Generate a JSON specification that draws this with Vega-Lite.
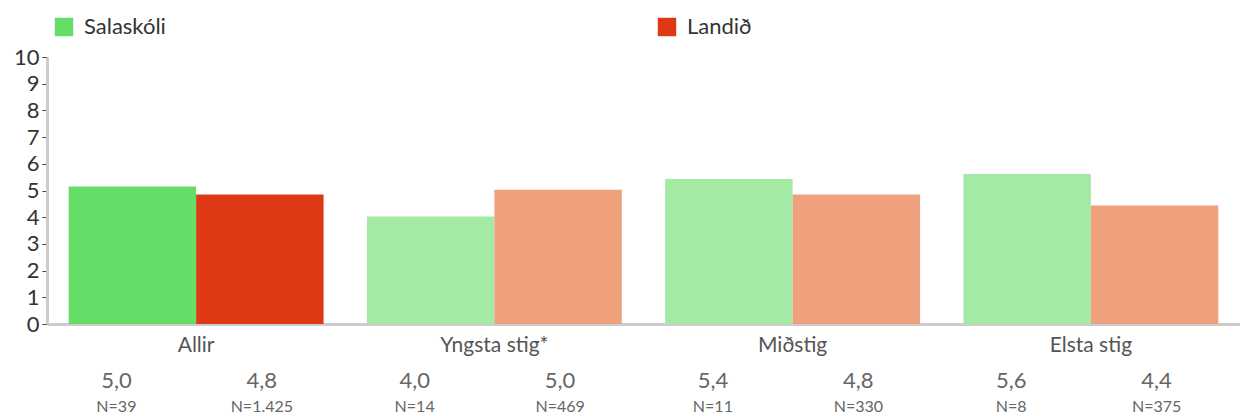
{
  "$schema": "https://vega.github.io/schema/vega-lite/v6.json",
  "width": 1193,
  "height": 267,
  "autosize": {"type": "none"},
  "padding": {"left": 47, "top": 57, "right": 0, "bottom": 92},
  "background": "white",
  "config": {
    "font": "Lato",
    "view": {"stroke": null},
    "axisY": {
      "title": null, "tickCount": 10, "grid": false, "labelOverlap": false,
      "domainColor": "#cccccc", "domainWidth": 3, "tickColor": "#444444", "tickSize": 5,
      "labelFontSize": 22, "labelColor": "#333333", "labelPadding": 3
    }
  },
  "data": {
    "values": [
      {"group": "Allir", "series": "Salaskóli", "value": 5.15, "label": "5,0", "n": "N=39"},
      {"group": "Allir", "series": "Landið", "value": 4.85, "label": "4,8", "n": "N=1.425"},
      {"group": "Yngsta stig*", "series": "Salaskóli", "value": 4.03, "label": "4,0", "n": "N=14"},
      {"group": "Yngsta stig*", "series": "Landið", "value": 5.03, "label": "5,0", "n": "N=469"},
      {"group": "Miðstig", "series": "Salaskóli", "value": 5.43, "label": "5,4", "n": "N=11"},
      {"group": "Miðstig", "series": "Landið", "value": 4.85, "label": "4,8", "n": "N=330"},
      {"group": "Elsta stig", "series": "Salaskóli", "value": 5.62, "label": "5,6", "n": "N=8"},
      {"group": "Elsta stig", "series": "Landið", "value": 4.44, "label": "4,4", "n": "N=375"}
    ]
  },
  "encoding": {
    "x": {
      "field": "group", "type": "nominal", "sort": ["Allir", "Yngsta stig*", "Miðstig", "Elsta stig"],
      "scale": {"paddingInner": 0, "paddingOuter": 0},
      "axis": {
        "title": null, "ticks": false, "domainColor": "#cccccc", "domainWidth": 3,
        "labelAngle": 0, "labelFontSize": 21, "labelColor": "#555555", "labelPadding": 10
      }
    },
    "xOffset": {
      "field": "series", "type": "nominal", "sort": ["Salaskóli", "Landið"],
      "scale": {"paddingOuter": 0.17, "paddingInner": 0}
    }
  },
  "layer": [
    {
      "layer": [
        {
          "transform": [{"filter": "datum.group === 'Allir'"}],
          "mark": {"type": "bar"},
          "encoding": {
            "color": {
              "field": "series", "type": "nominal",
              "scale": {"domain": ["Salaskóli", "Landið"], "range": ["#66DD66", "#DD3914"]},
              "legend": {
                "title": null, "orient": "none", "legendX": 6, "legendY": -41, "direction": "horizontal",
                "symbolType": "square", "symbolSize": 340, "symbolStrokeWidth": 0,
                "labelFontSize": 22, "labelColor": "#333333", "labelOffset": 9, "columnPadding": 490
              }
            }
          }
        },
        {
          "transform": [{"filter": "datum.group !== 'Allir'"}],
          "mark": {"type": "bar"},
          "encoding": {
            "color": {
              "field": "series", "type": "nominal",
              "scale": {"domain": ["Salaskóli", "Landið"], "range": ["#A4E9A4", "#EEA17C"]},
              "legend": null
            }
          }
        }
      ],
      "encoding": {
        "y": {
          "field": "value", "type": "quantitative",
          "scale": {"domain": [0, 10], "nice": false}
        }
      },
      "resolve": {"scale": {"color": "independent"}}
    },
    {
      "transform": [{"filter": "datum.series === 'Salaskóli'"}],
      "mark": {"type": "text", "fontSize": 22, "color": "#666666", "dy": 57, "dx": -16, "baseline": "middle"},
      "encoding": {"y": {"datum": 0, "type": "quantitative"}, "text": {"field": "label"}}
    },
    {
      "transform": [{"filter": "datum.series === 'Landið'"}],
      "mark": {"type": "text", "fontSize": 22, "color": "#666666", "dy": 57, "dx": 2, "baseline": "middle"},
      "encoding": {"y": {"datum": 0, "type": "quantitative"}, "text": {"field": "label"}}
    },
    {
      "transform": [{"filter": "datum.series === 'Salaskóli'"}],
      "mark": {"type": "text", "fontSize": 16, "color": "#666666", "dy": 83, "dx": -16, "baseline": "middle"},
      "encoding": {"y": {"datum": 0, "type": "quantitative"}, "text": {"field": "n"}}
    },
    {
      "transform": [{"filter": "datum.series === 'Landið'"}],
      "mark": {"type": "text", "fontSize": 16, "color": "#666666", "dy": 83, "dx": 2, "baseline": "middle"},
      "encoding": {"y": {"datum": 0, "type": "quantitative"}, "text": {"field": "n"}}
    }
  ],
  "resolve": {"scale": {"color": "independent"}}
}
